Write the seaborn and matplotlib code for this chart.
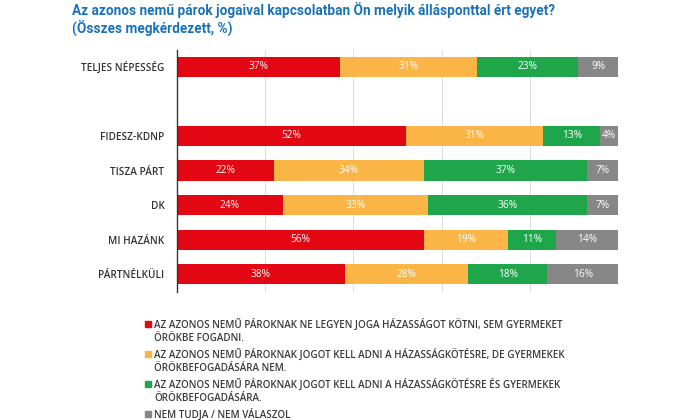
import matplotlib
matplotlib.use("Agg")
import matplotlib.pyplot as plt
import seaborn as sns
import pandas as pd
import numpy as np
from matplotlib.patches import Rectangle

categories = ["TELJES NÉPESSÉG", "FIDESZ-KDNP", "TISZA PÁRT", "DK", "MI HAZÁNK", "PÁRTNÉLKÜLI"]
positions = [0, 2, 3, 4, 5, 6]
no_rights = [37, 52, 22, 24, 56, 38]
marriage_only = [31, 31, 34, 33, 19, 28]
marriage_adopt = [23, 13, 37, 36, 11, 18]
dont_know = [9, 4, 7, 7, 14, 16]

series_names = [
    "AZ AZONOS NEMŰ PÁROKNAK NE LEGYEN JOGA HÁZASSÁGOT KÖTNI, SEM GYERMEKET\nÖRÖKBE FOGADNI.",
    "AZ AZONOS NEMŰ PÁROKNAK JOGOT KELL ADNI A HÁZASSÁGKÖTÉSRE, DE GYERMEKEK\nÖRÖKBEFOGADÁSÁRA NEM.",
    "AZ AZONOS NEMŰ PÁROKNAK JOGOT KELL ADNI A HÁZASSÁGKÖTÉSRE ÉS GYERMEKEK\nÖRÖKBEFOGADÁSÁRA.",
    "NEM TUDJA / NEM VÁLASZOL",
]
colors = ["#e30613", "#fbb446", "#1fa64a", "#878787"]

title = "Az azonos nemű párok jogaival kapcsolatban Ön melyik állásponttal ért egyet?\n(Összes megkérdezett, %)"

sns.set_theme(style="white")
plt.rcParams["font.family"] = ["Open Sans", "DejaVu Sans"]

df = pd.DataFrame({
    "cat": categories, "pos": positions,
    "s0": no_rights, "s1": marriage_only, "s2": marriage_adopt, "s3": dont_know,
})
cols = ["s0", "s1", "s2", "s3"]
cum = df[cols].cumsum(axis=1)

fig = plt.figure(figsize=(6.9, 4.2), dpi=100)
ax = fig.add_axes([177 / 690, 1 - 291.5 / 420, 441 / 690, 242 / 420])

# stacked: draw cumulative totals from largest to smallest
for i in range(3, -1, -1):
    sns.barplot(x=cum[cols[i]], y=df["pos"], orient="y", native_scale=True,
                color=colors[i], saturation=1, width=0.58, ax=ax, zorder=2,
                linewidth=0, edgecolor="none")

# value labels
for r in range(len(df)):
    left = 0
    for i, c in enumerate(cols):
        v = df.loc[r, c]
        ax.text(left + v / 2, df.loc[r, "pos"], f"{v}%", ha="center", va="center",
                color="white", fontsize=7.3, zorder=5)
        left += v

ax.set_xlim(0, 100)
ax.set_ylim(6.5, -0.5)
ax.set_xticks([20, 40, 60, 80])
ax.set_xticklabels([])
ax.tick_params(axis="x", length=0)
ax.grid(axis="x", color="#dedede", linewidth=0.8, zorder=0)
ax.grid(axis="y", visible=False)
ax.set_axisbelow(True)
ax.set_yticks(positions)
ax.set_yticklabels(categories, fontsize=7.2, color="#333333", fontweight="semibold")
ax.tick_params(axis="y", length=0, pad=9)
ax.set_xlabel("")
ax.set_ylabel("")
for s in ["top", "right", "bottom"]:
    ax.spines[s].set_visible(False)
ax.spines["left"].set_color("#333333")
ax.spines["left"].set_linewidth(1.0)

fig.text(72 / 690, 1 - 2 / 420, title, ha="left", va="top", fontsize=9.8,
         fontweight="bold", color="#1b72b8", linespacing=1.15,
         family=["Roboto", "DejaVu Sans"])

# legend
legend_y = [324, 354, 384, 414]
for i, name in enumerate(series_names):
    yc = legend_y[i]
    fig.patches.append(Rectangle((145 / 690, 1 - (yc + 3) / 420), 6 / 690, 6 / 420,
                                 transform=fig.transFigure, color=colors[i]))
    fig.text(154 / 690, 1 - (yc - 5.5) / 420, name, ha="left", va="top", fontsize=7.1,
             color="#3c3c3c", linespacing=1.3, fontweight="semibold")

fig.savefig("out.png", dpi=100)
